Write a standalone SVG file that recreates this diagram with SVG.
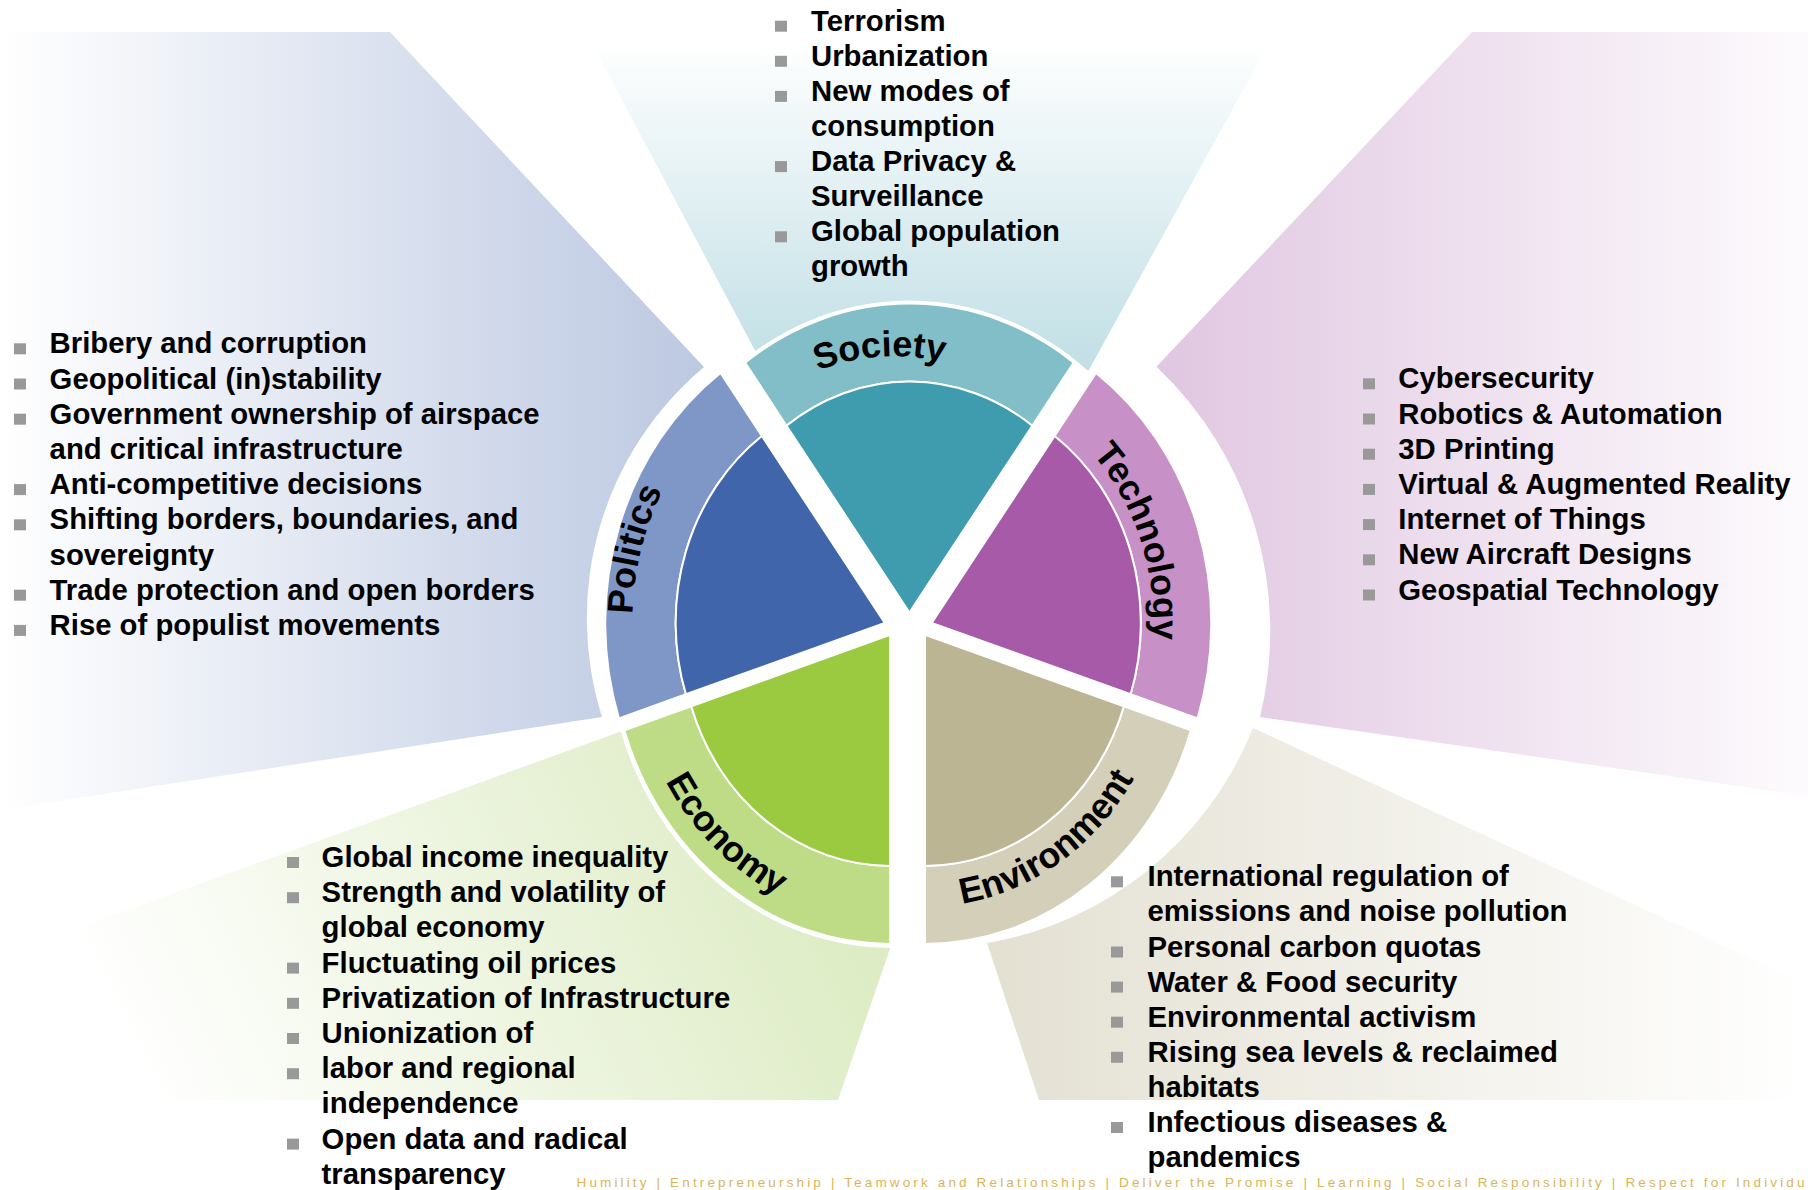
<svg xmlns="http://www.w3.org/2000/svg" xmlns:xlink="http://www.w3.org/1999/xlink" width="1808" height="1190" viewBox="0 0 1808 1190">
<defs>
<style>
.t{font-family:"Liberation Sans",Arial,sans-serif;font-weight:bold;font-size:29.3px;fill:#000}
.lbl{font-family:"Liberation Sans",Arial,sans-serif;font-weight:bold;font-size:36px;fill:#000}
.pie{stroke:#fff;stroke-width:2;stroke-linejoin:round}
.foot{font-family:"Liberation Sans",Arial,sans-serif;font-size:13.5px;fill:#d9b45a}
</style>
<rect id="bul" width="12" height="11" fill="#999"/>
<linearGradient id="gPol" gradientUnits="userSpaceOnUse" x1="0" y1="0" x2="700" y2="0">
<stop offset="0" stop-color="#ffffff"/><stop offset="1" stop-color="#bdc9e2"/></linearGradient>
<linearGradient id="gSoc" gradientUnits="userSpaceOnUse" x1="0" y1="40" x2="0" y2="360">
<stop offset="0" stop-color="#ffffff"/><stop offset="1" stop-color="#c2e0e6"/></linearGradient>
<linearGradient id="gTec" gradientUnits="userSpaceOnUse" x1="1150" y1="0" x2="1808" y2="0">
<stop offset="0" stop-color="#e0c6e1"/><stop offset="1" stop-color="#fdfbfd"/></linearGradient>
<linearGradient id="gEco" gradientUnits="userSpaceOnUse" x1="880" y1="740" x2="150" y2="1100">
<stop offset="0" stop-color="#d8e9bb"/><stop offset="1" stop-color="#ffffff"/></linearGradient>
<linearGradient id="gEnv" gradientUnits="userSpaceOnUse" x1="1000" y1="0" x2="1808" y2="0">
<stop offset="0" stop-color="#e4e1d3"/><stop offset="1" stop-color="#ffffff"/></linearGradient>
<path id="pSoc" d="M708.4,460 A231.7,256 0 0 1 1063.3,436.7"/>
<path id="pPol" d="M676,779.7 A252.5,279 0 0 1 781.3,368.4"/>
<path id="pTec" d="M1005.4,391.8 A221.7,245 0 0 1 1124.8,743.2"/>
<path id="pEco" d="M629.6,629.9 A260.6,288 0 0 0 931,919.4"/>
<path id="pEnv" d="M850.3,894.1 A246.2,272 0 0 0 1168.9,671.4"/>
</defs>
<rect width="1808" height="1190" fill="#fff"/>

<g id="politics">
<path d="M0,32 L390,32 L704,367 A328,328 0 0 0 602,717 L0,810 Z" fill="url(#gPol)"/>
<path class="pie" fill="#7f97c6" d="M685.9,694.3 L618.9,718.4 A279.6,309 0 0 1 720.5,372.9 L761.9,436 A209.1,231 0 0 0 685.9,694.3 Z"/>
<path class="pie" fill="#4065aa" d="M884.8,622.9 L685.9,694.3 A209.1,231 0 0 1 761.9,436 Z"/>
<text class="lbl"><textPath href="#pPol" startOffset="50%" text-anchor="middle">Politics</textPath></text>
<g class="t">
<use href="#bul" x="14" y="343.3"/><text x="49.6" y="353.3">Bribery and corruption</text>
<use href="#bul" x="14" y="378.5"/><text x="49.6" y="388.5">Geopolitical (in)stability</text>
<use href="#bul" x="14" y="413.7"/><text x="49.6" y="423.7">Government ownership of airspace</text>
<text x="49.6" y="458.9">and critical infrastructure</text>
<use href="#bul" x="14" y="484.1"/><text x="49.6" y="494.1">Anti-competitive decisions</text>
<use href="#bul" x="14" y="519.3"/><text x="49.6" y="529.3">Shifting borders, boundaries, and</text>
<text x="49.6" y="564.5">sovereignty</text>
<use href="#bul" x="14" y="589.7"/><text x="49.6" y="599.7">Trade protection and open borders</text>
<use href="#bul" x="14" y="624.9"/><text x="49.6" y="634.9">Rise of populist movements</text>
</g>
</g>

<g id="society">
<path d="M586,32 L1275,32 L1088.3,371.1 A282.4,312 0 0 0 755.3,351 Z" fill="url(#gSoc)"/>
<path class="pie" fill="#81bec8" d="M786.5,425.7 L745.1,362.6 A279.6,309 0 0 1 1073.7,362.6 L1032.3,425.7 A209.1,231 0 0 0 786.5,425.7 Z"/>
<path class="pie" fill="#3f9cae" d="M909.4,612.6 L786.5,425.7 A209.1,231 0 0 1 1032.3,425.7 Z"/>
<text class="lbl"><textPath href="#pSoc" startOffset="50%" text-anchor="middle">Society</textPath></text>
<g class="t">
<use href="#bul" x="775" y="20.7"/><text x="811" y="30.7">Terrorism</text>
<use href="#bul" x="775" y="55.8"/><text x="811" y="65.8">Urbanization</text>
<use href="#bul" x="775" y="90.9"/><text x="811" y="100.9">New modes of</text>
<text x="811" y="136">consumption</text>
<use href="#bul" x="775" y="161.1"/><text x="811" y="171.1">Data Privacy &amp;</text>
<text x="811" y="206.2">Surveillance</text>
<use href="#bul" x="775" y="231.3"/><text x="811" y="241.3">Global population</text>
<text x="811" y="276.4">growth</text>
</g>
</g>

<g id="technology">
<path d="M1472,32 L1808,32 L1808,796 L1260,717 A364,364 0 0 0 1156.5,366.7 Z" fill="url(#gTec)"/>
<path class="pie" fill="#c790c6" d="M1054.6,436 L1096,372.9 A279.6,309 0 0 1 1197.6,718.4 L1130.6,694.3 A209.1,231 0 0 0 1054.6,436 Z"/>
<path class="pie" fill="#a75aa8" d="M931.7,622.9 L1054.6,436 A209.1,231 0 0 1 1130.6,694.3 Z"/>
<text class="lbl"><textPath href="#pTec" startOffset="50%" text-anchor="middle">Technology</textPath></text>
<g class="t">
<use href="#bul" x="1363" y="378.3"/><text x="1398.3" y="388.3">Cybersecurity</text>
<use href="#bul" x="1363" y="413.5"/><text x="1398.3" y="423.5">Robotics &amp; Automation</text>
<use href="#bul" x="1363" y="448.7"/><text x="1398.3" y="458.7">3D Printing</text>
<use href="#bul" x="1363" y="483.9"/><text x="1398.3" y="493.9">Virtual &amp; Augmented Reality</text>
<use href="#bul" x="1363" y="519.1"/><text x="1398.3" y="529.1">Internet of Things</text>
<use href="#bul" x="1363" y="554.3"/><text x="1398.3" y="564.3">New Aircraft Designs</text>
<use href="#bul" x="1363" y="589.5"/><text x="1398.3" y="599.5">Geospatial Technology</text>
</g>
</g>

<g id="economy">
<path d="M620.8,731.6 L0,956 L0,1100 L838,1100 L890.2,947.9 A283.3,313 0 0 1 620.8,731.6 Z" fill="url(#gEco)"/>
<path class="pie" fill="#bedc86" d="M890.2,865.9 L890.2,943.9 A279.6,309 0 0 1 624.3,730.4 L691.3,706.3 A209.1,231 0 0 0 890.2,865.9 Z"/>
<path class="pie" fill="#9bc93f" d="M890.2,634.9 L890.2,865.9 A209.1,231 0 0 1 691.3,706.3 Z"/>
<text class="lbl"><textPath href="#pEco" startOffset="50%" text-anchor="middle">Economy</textPath></text>
<g class="t">
<use href="#bul" x="287" y="857"/><text x="321.6" y="867">Global income inequality</text>
<use href="#bul" x="287" y="892.2"/><text x="321.6" y="902.2">Strength and volatility of</text>
<text x="321.6" y="937.4">global economy</text>
<use href="#bul" x="287" y="962.6"/><text x="321.6" y="972.6">Fluctuating oil prices</text>
<use href="#bul" x="287" y="997.8"/><text x="321.6" y="1007.8">Privatization of Infrastructure</text>
<use href="#bul" x="287" y="1033"/><text x="321.6" y="1043">Unionization of</text>
<use href="#bul" x="287" y="1068.2"/><text x="321.6" y="1078.2">labor and regional</text>
<text x="321.6" y="1113.4">independence</text>
<use href="#bul" x="287" y="1138.6"/><text x="321.6" y="1148.6">Open data and radical</text>
<text x="321.6" y="1183.8">transparency</text>
</g>
</g>

<g id="environment">
<path d="M1253,728 L1808,985 L1808,1100 L1039,1100 L987,943 A350,350 0 0 0 1253,728 Z" fill="url(#gEnv)"/>
<path class="pie" fill="#d3cfb9" d="M1123.9,706.3 L1190.9,730.4 A279.6,309 0 0 1 925,943.9 L925,865.9 A209.1,231 0 0 0 1123.9,706.3 Z"/>
<path class="pie" fill="#bbb594" d="M925,634.9 L1123.9,706.3 A209.1,231 0 0 1 925,865.9 Z"/>
<text class="lbl"><textPath href="#pEnv" startOffset="50%" text-anchor="middle">Environment</textPath></text>
<g class="t">
<use href="#bul" x="1111" y="876.3"/><text x="1147.5" y="886.3">International regulation of</text>
<text x="1147.5" y="921.4">emissions and noise pollution</text>
<use href="#bul" x="1111" y="946.5"/><text x="1147.5" y="956.5">Personal carbon quotas</text>
<use href="#bul" x="1111" y="981.6"/><text x="1147.5" y="991.6">Water &amp; Food security</text>
<use href="#bul" x="1111" y="1016.7"/><text x="1147.5" y="1026.7">Environmental activism</text>
<use href="#bul" x="1111" y="1051.8"/><text x="1147.5" y="1061.8">Rising sea levels &amp; reclaimed</text>
<text x="1147.5" y="1096.9">habitats</text>
<use href="#bul" x="1111" y="1122"/><text x="1147.5" y="1132">Infectious diseases &amp;</text>
<text x="1147.5" y="1167.1">pandemics</text>
</g>
</g>

<g id="footer">
<text class="foot" x="576.5" y="1186.8" textLength="1228" lengthAdjust="spacing">Humility | Entrepreneurship | Teamwork and Relationships | Deliver the Promise | Learning | Social Responsibility | Respect for Individu</text>
</g>
</svg>
